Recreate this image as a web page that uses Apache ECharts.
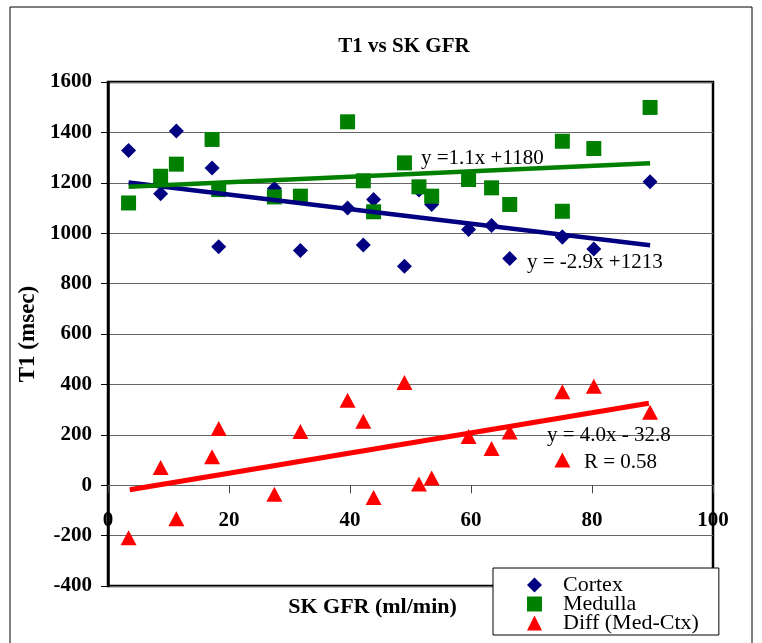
<!DOCTYPE html>
<html>
<head>
<meta charset="utf-8" />
<title>T1 vs SK GFR</title>
<script src="https://cdn.jsdelivr.net/npm/echarts/dist/echarts.min.js"></script>
<style>
    body { margin: 0; background: #fff; }
</style>
</head>
<body>
<div id="main" style="width: 762px;height: 643px;"></div>
<script type="text/javascript">
// values
var gfr     = [3.4, 8.7, 11.3, 17.2, 18.3, 27.5, 31.8, 39.6, 42.2, 43.9, 49.0, 51.4, 53.5, 59.6, 63.4, 66.4, 75.1, 75.1, 80.3, 89.6];
var cortex  = [1328, 1157, 1406, 1259, 946, 1177, 931, 1100, 953, 1134, 869, 1171, 1114, 1015, 1031, 900, 985, 985, 937, 1204];
var medulla = [1120, 1226, 1274, 1372, 1173, 1144, 1147, 1442, 1208, 1085, 1279, 1184, 1147, 1213, 1180, 1114, 1365, 1087, 1336, 1499];
var diff    = [-209, 70, -133, 113, 225, -36, 213, 337, 254, -49, 408, 5, 29, 193, 146, 211, 371, 100, 393, 289];

// trend line end points
var cortexFit  = [[3.4, 1201], [89.6, 952]];
var medullaFit = [[3.4, 1184], [89.6, 1278]];
var diffFit    = [[3.6, -18], [89.4, 325]];

var seriesNames = ['Cortex', 'Medulla', 'Diff (Med-Ctx)'];
var fitLabels = ['y =1.1x +1180', 'y = -2.9x +1213', 'y = 4.0x - 32.8', 'R = 0.58'];

var serif = "'Liberation Serif', 'DejaVu Serif', serif";

function pairs(xs, ys) {
    return xs.map(function (x, i) { return [x, ys[i]]; });
}

var myChart = echarts.init(document.getElementById('main'));

var option = {
    animation: false,
    title: {
        text: 'T1 vs SK GFR',
        left: 399,
        top: 31,
        textAlign: 'center',
        textStyle: { fontFamily: serif, fontWeight: 'bold', fontSize: 21, color: '#000' }
    },
    legend: {
        data: seriesNames,
        orient: 'vertical',
        left: 493,
        top: 568,
        height: 120,
        padding: [6, 20, 1, 34],
        itemWidth: 15,
        itemHeight: 15,
        itemGap: -3,
        backgroundColor: '#fff',
        borderColor: '#000',
        borderWidth: 1,
        borderRadius: 0,
        textStyle: { fontFamily: serif, fontSize: 22, color: '#000', padding: [0, 0, 0, 16] }
    },
    grid: {
        left: 108,
        right: 49,
        top: 82,
        bottom: 57,
        containLabel: false,
        outerBoundsMode: 'none',
        show: true,
        borderColor: '#000',
        borderWidth: 2.5
    },
    xAxis: {
        type: 'value',
        min: 0,
        max: 100,
        interval: 20,
        name: 'SK GFR (ml/min)',
        nameLocation: 'middle',
        nameGap: 10,
        nameTextStyle: { fontFamily: serif, fontWeight: 'bold', fontSize: 22, color: '#000', padding: [0, 76, 0, 0] },
        axisLine: { onZero: true, lineStyle: { color: '#666', width: 1 } },
        axisTick: { show: true, length: 8, lineStyle: { color: '#444' } },
        axisLabel: { margin: -76, fontFamily: serif, fontWeight: 'bold', fontSize: 21, color: '#000' },
        splitLine: { show: false }
    },
    yAxis: {
        type: 'value',
        min: -400,
        max: 1600,
        interval: 200,
        name: 'T1 (msec)',
        nameLocation: 'middle',
        nameGap: 64,
        nameTextStyle: { fontFamily: serif, fontWeight: 'bold', fontSize: 23, color: '#000' },
        axisLine: { show: true, lineStyle: { color: '#000', width: 2.5 } },
        axisTick: { show: true, length: 7, lineStyle: { color: '#000' } },
        axisLabel: {
            margin: 16, fontFamily: serif, fontWeight: 'bold', fontSize: 21, color: '#000',
            formatter: function (v) { return String(v); }
        },
        splitLine: { show: true, lineStyle: { color: '#666', width: 1.2 } }
    },
    graphic: [
        {
            type: 'rect',
            z: -10,
            shape: { x: 10, y: 7, width: 742, height: 660 },
            style: { fill: 'none', stroke: '#000', lineWidth: 1 }
        },
        { type: 'text', left: 421, top: 148, z: 10, style: { text: fitLabels[0], font: '21px ' + serif, fill: '#000' } },
        { type: 'text', left: 527, top: 252, z: 10, style: { text: fitLabels[1], font: '21px ' + serif, fill: '#000' } },
        { type: 'text', left: 547, top: 425, z: 10, style: { text: fitLabels[2], font: '21px ' + serif, fill: '#000' } },
        { type: 'text', left: 584, top: 452, z: 10, style: { text: fitLabels[3], font: '21px ' + serif, fill: '#000' } }
    ],
    series: [
        {
            name: seriesNames[0],
            type: 'scatter',
            symbol: 'diamond',
            symbolSize: 15,
            itemStyle: { color: '#000080', opacity: 1 },
            data: pairs(gfr, cortex)
        },
        {
            name: seriesNames[1],
            type: 'scatter',
            symbol: 'rect',
            symbolSize: 15,
            itemStyle: { color: '#008000', opacity: 1 },
            data: pairs(gfr, medulla)
        },
        {
            name: seriesNames[2],
            type: 'scatter',
            symbol: 'triangle',
            symbolSize: [16, 15],
            itemStyle: { color: '#ff0000', opacity: 1 },
            data: pairs(gfr, diff)
        },
        {
            name: 'cortexFit',
            type: 'line',
            showSymbol: false,
            silent: true,
            lineStyle: { color: '#000080', width: 4.5 },
            data: cortexFit
        },
        {
            name: 'medullaFit',
            type: 'line',
            showSymbol: false,
            silent: true,
            lineStyle: { color: '#008000', width: 4.5 },
            data: medullaFit
        },
        {
            name: 'diffFit',
            type: 'line',
            showSymbol: false,
            silent: true,
            lineStyle: { color: '#ff0000', width: 5 },
            data: diffFit
        }
    ]
};

myChart.setOption(option);
</script>
</body>
</html>
